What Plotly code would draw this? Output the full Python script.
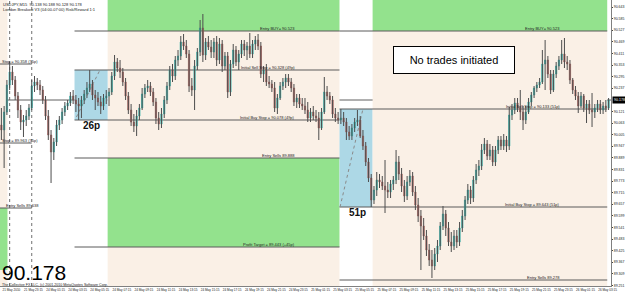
import plotly.graph_objects as go

POINT = 0.001  # prices stored in points (price * 1000)

open_pts = [
    90053, 90028, 90118, 90253, 90318, 90278, 90198, 90128, 90068, 90078,
    90098, 90138, 90248, 90268, 90253, 90228, 90178, 90098, 90003, 89918,
    89968, 90053, 90078, 90118, 90148, 90163, 90198, 90178, 90158, 90148,
    90178, 90208, 90238, 90258, 90203, 90188, 90168, 90148, 90188, 90198,
    90218, 90298, 90368, 90338, 90318, 90268, 90198, 90128, 90068, 90048,
    90098, 90138, 90208, 90238, 90248, 90218, 90168, 90088, 90058, 90108,
    90178, 90248, 90328, 90298, 90378, 90398, 90468, 90448, 90408, 90248,
    90228, 90348, 90418, 90538, 90403, 90468, 90443, 90418, 90468, 90378,
    90458, 90348, 90398, 90218, 90358, 90428, 90368, 90408, 90458, 90428,
    90448, 90408, 90458, 90478, 90448, 90308, 90328, 90268, 90258, 90238,
    90138, 90188, 90248, 90268, 90288, 90268, 90238, 90168, 90188, 90158,
    90148, 90128, 90088, 90118, 90098, 90088, 90038, 90118, 90218, 90198,
    90178, 90108, 90088, 90078, 90088, 90068, 90018, 89998, 90038, 90068,
    90078, 89998, 89948, 89868, 89788, 89678, 89728, 89778, 89768, 89748,
    89728, 89718, 89758, 89778, 89868, 89808, 89748, 89698, 89768, 89798,
    89718, 89653, 89598, 89548, 89498, 89428, 89378, 89348, 89408, 89448,
    89548, 89608, 89538, 89468, 89448, 89498, 89468, 89538, 89598, 89678,
    89728, 89688, 89778, 89828, 89848, 89928, 89958, 89898, 89928, 89868,
    89928, 89978, 89948, 89978, 89948, 90103, 90128, 90163, 90138, 90118,
    90078, 90118, 90168, 90203, 90238, 90253, 90268, 90358, 90378, 90308,
    90228, 90308, 90348, 90378, 90408, 90368, 90358, 90278, 90228, 90198,
    90148, 90198, 90138, 90158, 90128, 90118, 90138, 90158, 90128, 90148,
    90138,
]
high_pts = [
    90138, 90148, 90278, 90368, 90348, 90298, 90218, 90153, 90103, 90128,
    90158, 90278, 90298, 90288, 90278, 90248, 90198, 90128, 90028, 89988,
    90078, 90098, 90138, 90168, 90178, 90218, 90228, 90203, 90188, 90198,
    90228, 90268, 90328, 90278, 90228, 90218, 90198, 90208, 90228, 90238,
    90318, 90403, 90388, 90378, 90338, 90288, 90218, 90158, 90108, 90128,
    90158, 90238, 90258, 90278, 90268, 90238, 90188, 90118, 90138, 90198,
    90268, 90348, 90358, 90398, 90428, 90498, 90508, 90478, 90428, 90288,
    90378, 90438, 90578, 90608, 90488, 90498, 90478, 90488, 90498, 90488,
    90478, 90418, 90418, 90378, 90458, 90448, 90428, 90478, 90478, 90468,
    90513, 90478, 90498, 90508, 90468, 90348, 90358, 90298, 90278, 90268,
    90208, 90268, 90288, 90308, 90308, 90288, 90258, 90208, 90208, 90188,
    90188, 90168, 90138, 90148, 90128, 90118, 90138, 90293, 90248, 90218,
    90198, 90138, 90118, 90133, 90118, 90088, 90048, 90058, 90088, 90128,
    90098, 90028, 89968, 89888, 89808, 89748, 89818, 89808, 89798, 89878,
    89768, 89778, 89798, 89928, 89898, 89838, 89778, 89798, 89828, 89818,
    89748, 89688, 89628, 89588, 89528, 89458, 89428, 89438, 89478, 89568,
    89648, 89628, 89568, 89518, 89528, 89528, 89568, 89628, 89698, 89758,
    89748, 89798, 89858, 89878, 89958, 89988, 89978, 89958, 89948, 89948,
    89998, 89998, 90008, 89998, 90143, 90158, 90188, 90188, 90228, 90148,
    90148, 90188, 90218, 90248, 90268, 90288, 90428, 90478, 90398, 90328,
    90328, 90368, 90398, 90478, 90488, 90398, 90378, 90288, 90248, 90218,
    90218, 90208, 90178, 90178, 90213, 90158, 90178, 90178, 90168, 90178,
    90188,
]
low_pts = [
    89978, 89838, 90103, 90228, 90253, 90178, 90088, 90028, 89993, 90048,
    90078, 90128, 90218, 90228, 90203, 90158, 90078, 89978, 89763, 89878,
    89948, 90028, 90058, 90098, 90128, 90148, 90158, 90118, 90078, 90088,
    90158, 90188, 90218, 90178, 90128, 90148, 90108, 90128, 90158, 90148,
    90203, 90278, 90318, 90288, 90248, 90178, 90108, 90048, 90018, 89998,
    90078, 90128, 90188, 90218, 90198, 90148, 90058, 90028, 90038, 90088,
    90158, 90228, 90268, 90278, 90348, 90378, 90428, 90388, 90218, 90198,
    90128, 90328, 90398, 90368, 90378, 90428, 90388, 90388, 90348, 90358,
    90318, 90328, 90188, 90198, 90338, 90348, 90328, 90388, 90398, 90378,
    90388, 90388, 90428, 90428, 90288, 90268, 90248, 90238, 90218, 90118,
    90108, 90178, 90228, 90238, 90248, 90218, 90148, 90138, 90138, 90128,
    90108, 90068, 90068, 90078, 90068, 89978, 90028, 90108, 90178, 90158,
    90088, 90068, 90058, 90058, 90048, 89978, 89978, 89978, 90018, 90048,
    89988, 89928, 89848, 89768, 89643, 89658, 89698, 89738, 89728, 89613,
    89688, 89688, 89728, 89758, 89778, 89718, 89668, 89678, 89748, 89698,
    89628, 89568, 89328, 89478, 89398, 89348, 89288, 89328, 89368, 89428,
    89528, 89498, 89448, 89418, 89428, 89438, 89448, 89518, 89578, 89658,
    89658, 89668, 89758, 89798, 89828, 89908, 89878, 89878, 89848, 89848,
    89908, 89928, 89928, 89918, 89928, 90078, 90108, 90118, 90078, 90028,
    90058, 90108, 90148, 90188, 90218, 90238, 90258, 90228, 90288, 90208,
    90218, 90288, 90328, 90358, 90338, 90328, 90258, 90208, 90178, 90113,
    90138, 90118, 90063, 90108, 90043, 90088, 90118, 90108, 90108, 90118,
    90128,
]
close_pts = [
    90028, 90118, 90253, 90318, 90278, 90198, 90128, 90068, 90078, 90098,
    90138, 90248, 90268, 90253, 90228, 90178, 90098, 90003, 89918, 89968,
    90053, 90078, 90118, 90148, 90163, 90198, 90178, 90158, 90148, 90178,
    90208, 90238, 90258, 90203, 90188, 90168, 90148, 90188, 90198, 90218,
    90298, 90368, 90338, 90318, 90268, 90198, 90128, 90068, 90048, 90098,
    90138, 90208, 90238, 90248, 90218, 90168, 90088, 90058, 90108, 90178,
    90248, 90328, 90298, 90378, 90398, 90468, 90448, 90408, 90248, 90228,
    90348, 90418, 90538, 90403, 90468, 90443, 90418, 90468, 90378, 90458,
    90348, 90398, 90218, 90358, 90428, 90368, 90408, 90458, 90428, 90448,
    90408, 90458, 90478, 90448, 90308, 90328, 90268, 90258, 90238, 90138,
    90188, 90248, 90268, 90288, 90268, 90238, 90168, 90188, 90158, 90148,
    90128, 90088, 90118, 90098, 90088, 90038, 90118, 90218, 90198, 90178,
    90108, 90088, 90078, 90088, 90068, 90018, 89998, 90038, 90068, 90078,
    89998, 89948, 89868, 89788, 89678, 89728, 89778, 89768, 89748, 89728,
    89718, 89758, 89778, 89868, 89808, 89748, 89698, 89768, 89798, 89718,
    89653, 89598, 89548, 89498, 89428, 89378, 89348, 89408, 89448, 89548,
    89608, 89538, 89468, 89448, 89498, 89468, 89538, 89598, 89678, 89728,
    89688, 89778, 89828, 89848, 89928, 89958, 89898, 89928, 89868, 89928,
    89978, 89948, 89978, 89948, 90103, 90128, 90163, 90138, 90118, 90078,
    90118, 90168, 90203, 90238, 90253, 90268, 90358, 90378, 90308, 90228,
    90308, 90348, 90378, 90408, 90368, 90358, 90278, 90228, 90198, 90148,
    90198, 90138, 90158, 90128, 90118, 90138, 90158, 90128, 90148, 90138,
    90178,
]

time_tick_bars = [0, 8, 16, 24, 32, 40, 48, 56, 64, 72, 80, 88, 96, 104,
                  112, 120, 128, 136, 144, 152, 160, 168, 176, 184, 192, 200, 208, 216]
time_tick_text = ["21 May 2010", "21 May 23:15", "24 May 01:15", "24 May 03:15",
                  "24 May 05:15", "24 May 07:15", "24 May 09:15", "24 May 11:15",
                  "24 May 13:15", "24 May 15:15", "24 May 17:15", "24 May 19:15",
                  "24 May 21:15", "24 May 23:15", "25 May 01:15", "25 May 03:15",
                  "25 May 05:15", "25 May 07:15", "25 May 09:15", "25 May 11:15",
                  "25 May 13:15", "25 May 15:15", "25 May 17:15", "25 May 19:15",
                  "25 May 21:15", "25 May 23:15", "26 May 01:15", "26 May 03:15"]
price_ticks = [90.643, 90.585, 90.527, 90.469, 90.411, 90.353, 90.295, 90.237,
               90.121, 90.063, 90.005, 89.947, 89.889, 89.831, 89.773, 89.715,
               89.657, 89.599, 89.541, 89.483, 89.425, 89.367, 89.309, 89.251]
last_price = 90.178
separator_bars = [3, 11, 107, 203]

# indicator zones: (first bar, last bar, low price, high price, colour)
GREEN, LINEN, BLUE = "#93E28D", "#FAF0E6", "#ADD8E6"
zones = [
    (-0.5, 2.2, 89.0, 91.0, LINEN),
    (-0.5, 2.2, 89.328, 89.638, GREEN),
    (38.5, 122.5, 90.523, 91.0, GREEN),
    (38.5, 122.5, 89.888, 90.523, LINEN),
    (38.5, 122.5, 89.443, 89.888, GREEN),
    (38.5, 122.5, 89.0, 89.443, LINEN),
    (26.5, 38.5, 90.078, 90.328, BLUE),
    (122.5, 134.5, 89.643, 90.133, BLUE),
    (134.5, 219.5, 90.523, 91.0, GREEN),
    (134.5, 219.5, 89.0, 90.523, LINEN),
]
# level lines: (start bar, end bar, price, label, label bar, label anchor)
levels = [
    (-0.5, 11.0, 90.358, "Stop = 90.358 (75p)", -0.5, "left"),
    (-0.5, 11.0, 89.963, "Stop = 89.963 (75p)", -0.5, "left"),
    (-0.5, 11.0, 89.638, "Entry Sells 89.638", 1.0, "left"),
    (26.5, 122.5, 90.523, "Entry BUY= 90.523", 107, "right"),
    (26.5, 122.5, 90.328, "Initial Sell Stop = 90.328 (49p)", 107, "right"),
    (26.5, 122.5, 90.078, "Initial Buy Stop = 90.078 (49p)", 107, "right"),
    (26.5, 122.5, 89.888, "Entry Sells 89.888", 107, "right"),
    (26.5, 122.5, 89.443, "Profit Target = 89.443 (+45p)", 107, "right"),
    (122.5, 219.5, 90.523, "Entry BUY= 90.523", 203, "right"),
    (122.5, 219.5, 90.133, "Initial Sell Stop = 90.133 (51p)", 203, "right"),
    (122.5, 219.5, 89.643, "Initial Buy Stop = 89.643 (51p)", 203, "right"),
    (122.5, 219.5, 89.278, "Entry Sells 89.278", 203, "right"),
]
# dotted diagonal trend lines inside the range boxes
trendlines = [((27.2, 90.093), (35.7, 90.328)), ((122.7, 89.643), (131.0, 90.133))]
range_labels = [(32.7, 90.053, "26p"), (128.9, 89.615, "51p")]

o = [v * POINT for v in open_pts]
h = [v * POINT for v in high_pts]
l = [v * POINT for v in low_pts]
c = [v * POINT for v in close_pts]
bars = list(range(len(c)))
body_hi = [max(a, b) for a, b in zip(o, c)]
body_lo = [min(a, b) for a, b in zip(o, c)]

wx, wy = [], []
for i in bars:
    wx += [i, i, None]
    wy += [l[i], h[i], None]

FONT = "Arial, Liberation Sans, sans-serif"
fig = go.Figure()
fig.add_trace(go.Scatter(x=wx, y=wy, mode="lines", line=dict(color="#4d4d4d", width=1),
                         hoverinfo="skip", showlegend=False))
fig.add_trace(go.Candlestick(
    x=bars, open=o, high=body_hi, low=body_lo, close=c,
    increasing=dict(fillcolor="#33B2AB", line=dict(color="#33B2AB", width=0.6)),
    decreasing=dict(fillcolor="#A9605B", line=dict(color="#A9605B", width=0.6)),
    whiskerwidth=0, showlegend=False))

shapes = []
for x0, x1, y0, y1, col in zones:
    shapes.append(dict(type="rect", xref="x", yref="y", x0=x0, x1=x1, y0=y0, y1=y1,
                       fillcolor=col, line=dict(width=0), layer="below"))
for x0, x1, p, _, _, _ in levels:
    shapes.append(dict(type="line", xref="x", yref="y", x0=x0, x1=x1, y0=p, y1=p,
                       line=dict(color="#5a5a5a", width=1), layer="below"))
for (xa, ya), (xb, yb) in trendlines:
    shapes.append(dict(type="line", xref="x", yref="y", x0=xa, x1=xb, y0=ya, y1=yb,
                       line=dict(color="#8a8a8a", width=1, dash="dot"), layer="below"))
for b in separator_bars:
    shapes.append(dict(type="line", xref="x", yref="paper", x0=b, x1=b, y0=0, y1=1,
                       line=dict(color="#707070", width=1, dash="dot"), layer="below"))
shapes.append(dict(type="line", xref="paper", yref="y", x0=0, x1=1, y0=last_price, y1=last_price,
                   line=dict(color="#606060", width=1), layer="below"))

ann = []
for _, _, p, text, lb, side in levels:
    ann.append(dict(x=lb, y=p, xref="x", yref="y", text=text, showarrow=False,
                    xanchor=side, yanchor="bottom", yshift=-2,
                    font=dict(family=FONT, size=4, color="#222")))
for xb, p, text in range_labels:
    ann.append(dict(x=xb, y=p, xref="x", yref="y", text="<b>%s</b>" % text, showarrow=False,
                    xanchor="center", yanchor="middle",
                    font=dict(family=FONT, size=10, color="#111")))
ann.append(dict(x=0.743, y=0.79, xref="paper", yref="paper", text="No trades initiated",
                xanchor="center", yanchor="middle",
                showarrow=False, width=118, height=24, bgcolor="white", bordercolor="black",
                borderwidth=1, borderpad=1, font=dict(family=FONT, size=11, color="black")))
ann.append(dict(x=0, y=0, xref="paper", yref="paper", text="%.3f" % last_price, showarrow=False,
                xanchor="left", yanchor="bottom", xshift=0, yshift=0,
                font=dict(family=FONT, size=21, color="black")))
ann.append(dict(x=0, y=0, xref="paper", yref="paper",
                text="The Collective FX LLC, (c) 2001-2010 MetaQuotes Software Corp.",
                showarrow=False, xanchor="left", yanchor="middle", yshift=1,
                font=dict(family=FONT, size=3.6, color="#222")))
ann.append(dict(x=0, y=1, xref="paper", yref="paper",
                text="USDJPY,M15  %.3f %.3f %.3f %.3f" % (o[-1], h[-1], l[-1], c[-1]),
                showarrow=False, xanchor="left", yanchor="top", xshift=1, yshift=0,
                font=dict(family=FONT, size=4, color="#222")))
ann.append(dict(x=0, y=1, xref="paper", yref="paper",
                text="London Breakout V3 (04:00-07:00) Risk/Reward 1:1",
                showarrow=False, xanchor="left", yanchor="top", xshift=1, yshift=-5,
                font=dict(family=FONT, size=4, color="#222")))
ann.append(dict(x=1, y=last_price, xref="paper", yref="y", text="%.3f" % last_price,
                showarrow=False, xanchor="left", yanchor="middle", xshift=1,
                bgcolor="black", borderpad=1, font=dict(family=FONT, size=3.6, color="white")))

fig.update_layout(
    template="none",
    width=625, height=292, margin=dict(l=0, r=14, t=0, b=6, autoexpand=False),
    paper_bgcolor="white", plot_bgcolor="white", showlegend=False,
    shapes=shapes, annotations=ann,
    xaxis=dict(range=[-0.5, 220.87], showgrid=False, zeroline=False, rangeslider=dict(visible=False),
               tickmode="array", tickvals=time_tick_bars, ticktext=time_tick_text,
               ticks="", tickangle=0, automargin=False,
               tickfont=dict(family=FONT, size=3.1, color="#222"),
               ticklabelshift=10, ticklabelstandoff=0,
               showline=True, linecolor="#808080", linewidth=1),
    yaxis=dict(range=[89.248, 90.678], side="right", showgrid=False, zeroline=False,
               tickmode="array", tickvals=price_ticks, ticktext=["%.3f" % v for v in price_ticks],
               ticks="outside", ticklen=1, tickcolor="#444", automargin=False,
               ticklabelstandoff=0,
               tickfont=dict(family=FONT, size=3.5, color="#222"),
               showline=True, linecolor="#808080", linewidth=1),
)
fig.write_html("out.html")
